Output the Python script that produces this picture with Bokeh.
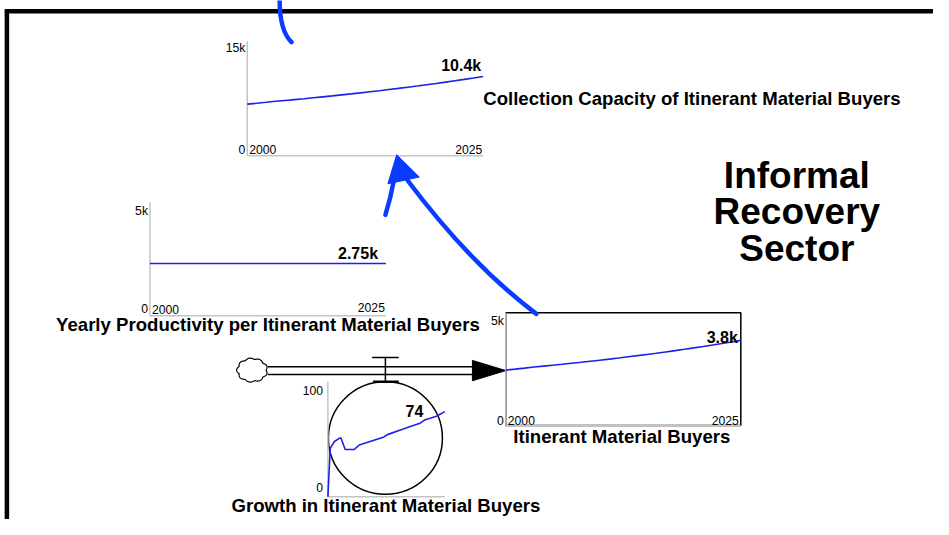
import numpy as np
from bokeh.plotting import figure
from bokeh.models import Range1d
from bokeh.core.properties import value
from bokeh.embed import file_html
from bokeh.resources import INLINE

# ---------------- data ----------------
years = [2000, 2001, 2002, 2003, 2004, 2005, 2006, 2007, 2008, 2009, 2010, 2011, 2012,
         2013, 2014, 2015, 2016, 2017, 2018, 2019, 2020, 2021, 2022, 2023, 2024, 2025]
itinerant_buyers = [2457, 2499, 2545, 2592, 2633, 2674, 2716, 2760, 2805, 2851, 2898, 2946, 2996,
                    3047, 3099, 3153, 3208, 3265, 3323, 3383, 3444, 3507, 3572, 3639, 3707, 3777]
collection_capacity = [6757, 6872, 6999, 7128, 7241, 7354, 7469, 7590, 7714, 7840, 7970, 8102, 8239,
                       8379, 8522, 8671, 8822, 8979, 9138, 9303, 9471, 9644, 9823, 10007, 10194, 10387]
productivity = [2750, 2750, 2750, 2750, 2750, 2750, 2750, 2750, 2750, 2750, 2750, 2750, 2750,
                2750, 2750, 2750, 2750, 2750, 2750, 2750, 2750, 2750, 2750, 2750, 2750, 2750]
growth_years = [2000, 2000.5, 2001.4, 2002.5, 2002.8, 2003.7, 2005.6, 2006.7, 2012.0, 2012.7,
                2015.5, 2017.6, 2019.7, 2020.8, 2023.2, 2025]
growth = [0, 42, 48, 51, 51, 41, 41, 45, 52, 54, 58, 61, 64, 67, 70, 74]

chart_titles = ["Collection Capacity of Itinerant Material Buyers",
                "Yearly Productivity per Itinerant Material Buyers",
                "Itinerant Material Buyers",
                "Growth in Itinerant Material Buyers"]
value_labels = ["10.4k", "2.75k", "3.8k", "74"]
y_max_labels = ["15k", "5k", "5k", "100"]
y_max_values = [15000, 5000, 5000, 100]
x_tick_labels = ["2000", "2025"]
sector_title = ["Informal", "Recovery", "Sector"]

# ---------------- canvas ----------------
W, H = 933, 519
X0, X1 = 0, 949
Y0, Y1 = 0, 535
FONT = value("Liberation Sans")
BLUE_LINE = "#1f1fe8"
BLUE_ARC = "#0a3cff"
GRAY = "#c4c4c4"
TICK = "12.2px"
VAL = "16px"
TITLE = "18.6px"

p = figure(width=W, height=H, output_backend="svg", toolbar_location=None,
           x_range=Range1d(X0, X1), y_range=Range1d(Y1, Y0),
           x_axis_location=None, y_axis_location=None, min_border=0)
p.grid.visible = False
p.outline_line_color = None
p.background_fill_color = "white"
p.border_fill_color = "white"


def add_chart_ranges(name, px0, px1, py_bottom, py_top, xmin, xmax, ymin, ymax):
    sx = (xmax - xmin) / (px1 - px0)
    sy = (ymax - ymin) / (py_bottom - py_top)
    p.extra_x_ranges[name + "_x"] = Range1d(xmin - (px0 - X0) * sx, xmax + (X1 - px1) * sx)
    p.extra_y_ranges[name + "_y"] = Range1d(ymin - (Y1 - py_bottom) * sy, ymax + (py_top - Y0) * sy)
    return name + "_x", name + "_y"


def txt(x, y, t, size, bold=False, align="left", color="black"):
    p.text(x=[x], y=[y], text=[t], text_font=FONT, text_font_size=size,
           text_font_style="bold" if bold else "normal", text_align=align,
           text_baseline="middle", text_color=color)


# ---------------- frame ----------------
p.segment(x0=[4.5], y0=[11], x1=[960], y1=[11], line_color="black", line_width=4.5)
p.segment(x0=[6.5], y0=[9], x1=[6.5], y1=[545], line_color="black", line_width=4.5)

# ---------------- stock box ----------------
p.quad(left=[514], right=[753], top=[322], bottom=[438], fill_color="white",
       line_color="black", line_width=1.5)

# ---------------- converter circle + valve ----------------
p.ellipse(x=[391.5], y=[451], width=[116], height=[116], fill_color=None,
          line_color="black", line_width=1.5)

# flow pipe
p.segment(x0=[272, 272], y0=[377.5, 385.5], x1=[482, 482], y1=[377.5, 385.5],
          line_color="black", line_width=1.5)
p.patch(x=[480, 480, 514], y=[371, 392, 381.5], fill_color="black", line_color="black")
p.segment(x0=[391.5], y0=[368], x1=[391.5], y1=[393], line_color="black", line_width=1.5)
p.segment(x0=[378], y0=[368], x1=[405], y1=[368], line_color="black", line_width=1.5)
p.segment(x0=[379], y0=[393], x1=[405], y1=[393], line_color="black", line_width=2.5)

# cloud
th = np.linspace(0, 2 * np.pi, 200)
r = 1 + 0.13 * np.abs(np.sin(4.5 * th))
p.patch(x=256 + 14 * r * np.cos(th), y=381 + 11 * r * np.sin(th), fill_color="white",
        line_color="black", line_width=1.2)

# ---------------- mini charts ----------------
# (name, px0, px1, py_bottom, py_top(data max), axis_top, series x, series y)
charts = [
    ("cap", 251, 491, 160, 42, 42, years, collection_capacity),
    ("prod", 152, 392, 325, 227, 208, years, productivity),
    ("imb", 514, 753, 438, 322, 322, years, itinerant_buyers),
    ("gro", 333, 452, 511.5, 393, 393, growth_years, growth),
]
for i, (name, px0, px1, pyb, pyt, atop, xs, ys) in enumerate(charts):
    xr, yr = add_chart_ranges(name, px0, px1, pyb, pyt, 2000, 2025, 0, y_max_values[i])
    p.segment(x0=[px0, px0], y0=[pyb, pyb], x1=[px0, px1], y1=[atop, pyb],
              line_color=GRAY, line_width=1.5)
    p.line(xs, ys, x_range_name=xr, y_range_name=yr, line_color=BLUE_LINE, line_width=1.6)

# axis labels
txt(249, 49, y_max_labels[0], TICK, align="right")
txt(249, 154, "0", TICK, align="right")
txt(253, 154, x_tick_labels[0], TICK)
txt(490, 154, x_tick_labels[1], TICK, align="right")

txt(150, 217, y_max_labels[1], TICK, align="right")
txt(150, 317, "0", TICK, align="right")
txt(154, 319, x_tick_labels[0], TICK)
txt(391, 316, x_tick_labels[1], TICK, align="right")

txt(512, 330, y_max_labels[2], TICK, align="right")
txt(512, 433, "0", TICK, align="right")
txt(516, 433, x_tick_labels[0], TICK)
txt(751, 433, x_tick_labels[1], TICK, align="right")

txt(328, 402, y_max_labels[3], TICK, align="right")
txt(328, 502, "0", TICK, align="right")

# value labels
txt(489, 67, value_labels[0], VAL, bold=True, align="right")
txt(384, 261, value_labels[1], VAL, bold=True, align="right")
txt(750, 347, value_labels[2], VAL, bold=True, align="right")
txt(421, 423, value_labels[3], VAL, bold=True, align="center")

# titles
txt(491, 101, chart_titles[0], TITLE, bold=True, align="left")
txt(272, 334, chart_titles[1], TITLE, bold=True, align="center")
txt(632, 449, chart_titles[2], TITLE, bold=True, align="center")
txt(392, 521, chart_titles[3], TITLE, bold=True, align="center")

for k, t in enumerate(sector_title):
    txt(810, 180 + 38 * k, t, "37px", bold=True, align="center")

# ---------------- connectors ----------------
p.quadratic(x0=[284], y0=[-5], x1=[296], y1=[43], cx=[283], cy=[30],
            line_color=BLUE_ARC, line_width=4.5, line_cap="round")
p.quadratic(x0=[391.5], y0=[221], x1=[400], y1=[186], cx=[397], cy=[203],
            line_color=BLUE_ARC, line_width=4.5, line_cap="round")
p.quadratic(x0=[545], y0=[323], x1=[413], y1=[184], cx=[478], cy=[272],
            line_color=BLUE_ARC, line_width=4.5, line_cap="round")
p.patch(x=[403, 394, 426], y=[159, 189, 182], fill_color=BLUE_ARC, line_color=BLUE_ARC,
        line_width=1)

open("out.html", "w").write(file_html(p, INLINE))
